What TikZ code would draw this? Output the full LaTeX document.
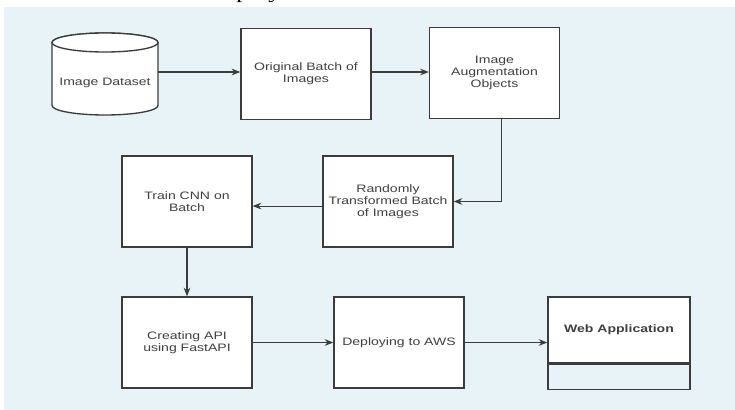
\documentclass[tikz,border=0pt]{standalone}
\usepackage{fontspec}
\setmainfont{Liberation Sans}[FakeStretch=1.3]
\newfontfamily\capfont{Liberation Serif}[FakeStretch=1.3]
\usepackage{xcolor}
\usepackage{tikz}
\usetikzlibrary{shapes,arrows,positioning,calc,arrows.meta}

\definecolor{panelblue}{RGB}{231,243,246}
\definecolor{edgegray}{RGB}{60,60,60}
\definecolor{labelgray}{RGB}{64,64,64}

\tikzset{
  stage/.style={draw=edgegray, fill=white, line width=1pt, minimum width=97.5pt, minimum height=68.25pt,
    inner sep=0pt, align=center, text=labelgray, font=\fontsize{8.1}{8.8}\selectfont},
  flow/.style={draw=edgegray, line width=0.8pt, -{Stealth[length=6.5pt,width=5pt]}},
  dbrim/.style={draw=edgegray, fill=white, line width=1pt},
}

\begin{document}
\begin{tikzpicture}[x=0.75pt, y=-0.75pt]
    \useasboundingbox (0,0) rectangle (735,410);
    % Background panel
    \fill[panelblue] (4,7) rectangle (735,410);
    % Caption cut off at the top edge
    \begin{scope}
        \clip (0,0) rectangle (735,7);
        \node[anchor=base west, inner sep=0pt, font=\capfont\fontsize{14.4}{16}\selectfont] (caption) at (207,-1.6) {Deployment};
    \end{scope}
    % Dataset store (cylinder)
    \node[minimum width=79.5pt, minimum height=62.25pt, inner sep=0pt] (db) at (105,72) {};
    \draw[dbrim] (52,42.5) -- (52,105.5) arc[start angle=180, end angle=360, x radius=39.75pt, y radius=7.125pt]
        -- (158,42.5) arc[start angle=0, end angle=180, x radius=39.75pt, y radius=7.125pt] -- cycle;
    \draw[dbrim] (105,42.5) ellipse [x radius=39.75pt, y radius=7.125pt];
    \node[text=labelgray, font=\fontsize{8.1}{8.8}\selectfont, inner sep=0pt] (dblabel) at (105,83) {Image Dataset};
    % Top row
    \node[stage] (orig) at (306,74) {Original Batch of\\Images};
    \node[stage] (aug) at (494.5,73) {Image\\Augmentation\\Objects};
    % Middle row
    \node[stage] (rand) at (388,201.5) {Randomly\\Transformed Batch\\of Images};
    \node[stage] (train) at (187,201.5) {Train CNN on\\Batch};
    % Bottom row
    \node[stage] (api) at (187,342.5) {Creating API\\using FastAPI};
    \node[stage] (deploy) at (399,342.5) {Deploying to AWS};
    \node[stage, minimum width=106.5pt, minimum height=49.5pt, font=\bfseries\fontsize{8.1}{8.8}\selectfont] (web) at (619,330) {Web Application};
    \node[stage, fill=none, minimum width=106.5pt, minimum height=18.75pt, anchor=north] (webfoot) at (web.south) {};
    % Connectors
    \draw[flow] (db.east) -- (db.east -| orig.west);
    \draw[flow] ([yshift=1.5pt]orig.east) -- ([yshift=1.5pt]orig.east -| aug.west);
    \draw[flow] ([xshift=4.9pt]aug.south) |- (rand.east);
    \draw[flow] ([yshift=-3.4pt]rand.west) -- ([yshift=-3.4pt]train.east);
    \draw[flow] (train) -- (api);
    \draw[flow] (api) -- (deploy);
    \draw[flow] (deploy.east) -- (deploy.east -| web.west);
\end{tikzpicture}
\end{document}
